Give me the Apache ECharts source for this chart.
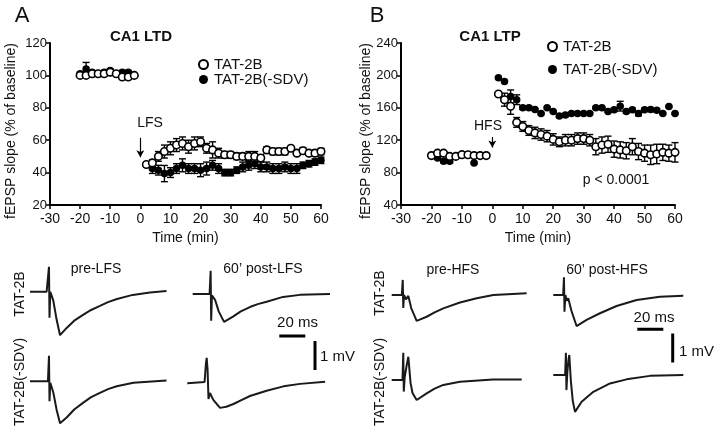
<!DOCTYPE html>
<html><head><meta charset="utf-8">
<script src="https://cdn.jsdelivr.net/npm/echarts@6/dist/echarts.min.js"></script>
<style>html,body{margin:0;padding:0;background:#fff}#c{width:720px;height:433px}</style>
</head><body><div id="c"></div>
<script>
// ---------- Data ----------
const baseTimes = [-20,-18,-16,-14,-12,-10,-8,-6,-4,-2];
const postTimes = [2,4,6,8,10,12,14,16,18,20,22,24,26,28,30,32,34,36,38,40,42,44,46,48,50,52,54,56,58,60];
const postTimesLtdSdv = [4,6,8,10,12,14,16,18,20,22,24,26,28,30,32,34,36,38,40,42,44,46,48,50,52,54,56,58,60];
const xTicks = [-30,-20,-10,0,10,20,30,40,50,60];

// Panel A (CA1 LTD)
const ltdOpenBase = [100,100,101,101,101,102,101,99,99,100];
const ltdOpenBaseErr = [1,1,1,1,1,1,1,1,1,1];
const ltdFilledBase = [101,104,102,101,102,103,101,102,102,100];
const ltdFilledBaseErr = [1,4,1,1,1,1,1,1,1,1];
const ltdOpen = [45,46,50,53,55,57,58,56,58,59,55,54,52,51,51,50,50,50,50,49,54,53,53,53,55,52,53.5,52,52,53];
const ltdOpenErr = [1,2,3,4,4,4,4,4,4,3,3,5,3,2,2,2,2,3,3,2,2,2,2,2,1,1,2,1,2,2];
const ltdFilled = [42.5,41.5,39.4,40,42.5,44.5,42.5,42.5,41.5,42.5,44.5,42.5,40,40,41.5,43.5,44.5,45.5,43.5,43.5,42.5,42.5,43.5,42.5,42.5,44.5,45.5,46.5,47.6];
const ltdFilledErr = [3,3,5,3,3,4,3,3,4,4,3,3,2,2,2,3,3,3,3,3,3,3,3,3,3,2,2,2,2];

// Panel B (CA1 LTP)
const ltpOpenBase = [101,104,104,100,100,102,102,101,101,101];
const ltpOpenBaseErr = [1,1,1,1,1,1,1,1,1,1];
const ltpFilledBase = [101,98,94,94,100,103,102,92,101,101];
const ltpFilledBaseErr = [1,1,2,2,1,1,1,1,1,1];
const ltpOpen = [177,170,162,142,137,132,129,127,125,121,118,120,120,122,122,120,112,114,115,109,108,107,112,106,104,102,103,105,104,105];
const ltpOpenErr = [2,8,10,6,6,6,7,7,7,7,6,7,7,7,7,7,10,10,10,10,10,10,10,10,10,12,12,10,10,12];
const ltpFilled = [197,192.5,174,170,160,160,158,153,160,155.5,150,151,153,153,153,153,160,160,155.5,157.5,162,155.5,157.5,153,157.5,158,157,153,161.5,153];
const ltpFilledErr = [1,1,8,6,2,2,1,1,1,1,2,2,1,1,1,1,1,1,1,2,6,2,2,3,2,2,2,1,1,1];

// Example fEPSP traces: [time ms, mV]
const trLtdPre2B  = [[0,0],[12.8,0],[14.6,0.86],[15.0,-0.9],[15.6,0],[17.9,-0.3],[20.5,-0.97],[23.1,-1.5],[28.2,-1.25],[34,-1.0],[40.8,-0.8],[47,-0.63],[53.8,-0.49],[60,-0.36],[66.9,-0.25],[79,-0.11],[92.3,-0.03],[105,0.02]];
const trLtdPost2B = [[0,0],[13.0,0],[13.8,0.8],[14.2,-0.92],[14.8,-0.05],[17.2,-0.2],[20,-0.6],[24.1,-0.96],[31,-0.78],[37,-0.6],[44,-0.45],[50,-0.35],[56.9,-0.27],[69.5,-0.1],[82.5,-0.03],[105.6,0]];
const trLtdPreSdv = [[0,0],[13.8,0],[14.6,0.89],[15.0,-0.69],[15.6,-0.05],[18,-0.4],[20.5,-1.0],[23.1,-1.46],[28.2,-1.26],[34,-0.98],[41,-0.74],[47,-0.55],[53.8,-0.4],[60,-0.27],[66.7,-0.17],[79.5,-0.05],[105,0.03]];
const trLtdPostSdv= [[0,0],[13.3,0.05],[14.3,0.7],[14.9,0.92],[15.6,0.5],[16.3,-0.57],[17.4,-0.35],[20,-0.6],[25.2,-0.89],[30,-0.85],[35.5,-0.75],[42,-0.6],[48.2,-0.46],[61,-0.27],[74,-0.11],[86.7,-0.02],[106,0.06]];
const trLtpPre2B  = [[0,0],[7.8,0],[8.5,0.52],[8.9,-0.45],[9.5,0.0],[11,-0.15],[12.8,-0.03],[15,-0.45],[19.2,-0.89],[26.9,-0.75],[33,-0.6],[39.7,-0.46],[52.5,-0.26],[65.4,-0.11],[78.2,0],[103.8,0.06]];
const trLtpPost2B = [[0,0],[7.6,0],[8.2,0.61],[8.6,-0.58],[9.3,0],[10.3,-0.2],[11.5,-0.11],[14,-0.55],[17.9,-1.07],[25.6,-0.86],[35.9,-0.63],[48.7,-0.38],[64.1,-0.17],[82,-0.06],[100,-0.03]];
const trLtpPreSdv = [[0,0],[8.3,0],[8.9,0.94],[9.3,-0.4],[10,0.1],[11.5,0.5],[12.8,0.8],[14.5,-0.1],[16,-0.45],[19.2,-0.69],[26.9,-0.46],[33,-0.3],[39.7,-0.17],[52.5,-0.06],[78,0.02],[100,0.02]];
const trLtpPostSdv= [[0,0],[9.1,0],[9.7,0.77],[10.1,-0.52],[10.8,0.1],[11.6,0.5],[12.3,0.69],[13.5,-0.2],[15,-0.9],[16.7,-1.27],[21.8,-0.92],[30.8,-0.58],[43.6,-0.29],[56.4,-0.15],[74.4,-0.03],[100,0]];
const scaleBarMs = 20, scaleBarMv = 1;

// ---------- Layout ----------
const FONT = 'Liberation Sans, Arial, sans-serif';
const PX_PER_MS = 1.3, PX_PER_MV = 29;
const chart = echarts.init(document.getElementById('c'));
const grids = [], xAxes = [], yAxes = [], series = [];

function pairs(xs, ys) { return xs.map((x,i)=>[x, ys[i]]); }
function triples(xs, ys, es) { return xs.map((x,i)=>[x, ys[i], es[i]]); }

function mainPanel(left, width, yMin, yMax, yInt) {
  const gi = grids.length;
  grids.push({left, top:43, width, height:162});
  xAxes.push({gridIndex:gi, type:'value', min:-30, max:60, interval:10,
    name:'Time (min)', nameLocation:'middle', nameGap:26,
    nameTextStyle:{fontFamily:FONT, fontSize:14, color:'#111'},
    axisLine:{onZero:false, lineStyle:{color:'#000', width:2}},
    axisTick:{length:4, lineStyle:{color:'#000', width:1.5}},
    axisLabel:{fontFamily:FONT, fontSize:14, color:'#111', margin:7},
    splitLine:{show:false}});
  yAxes.push({gridIndex:gi, type:'value', min:yMin, max:yMax, interval:yInt,
    axisLine:{show:true, onZero:false, lineStyle:{color:'#000', width:2}},
    axisTick:{show:true, length:4, lineStyle:{color:'#000', width:1.5}},
    axisLabel:{fontFamily:FONT, fontSize:13, color:'#111', margin:3},
    splitLine:{show:false}});
  return gi;
}

function errSeries(gi, data) {
  series.push({type:'custom', xAxisIndex:gi, yAxisIndex:gi, z:2, silent:true,
    encode:{x:0, y:1}, data,
    renderItem(params, api) {
      const x = api.value(0), y = api.value(1), e = api.value(2);
      const p1 = api.coord([x, y - e]), p2 = api.coord([x, y + e]);
      const w = 3.5;
      const st = {stroke:'#000', lineWidth:1.4};
      return {type:'group', children:[
        {type:'line', shape:{x1:p1[0], y1:p1[1], x2:p2[0], y2:p2[1]}, style:st},
        {type:'line', shape:{x1:p1[0]-w, y1:p1[1], x2:p1[0]+w, y2:p1[1]}, style:st},
        {type:'line', shape:{x1:p2[0]-w, y1:p2[1], x2:p2[0]+w, y2:p2[1]}, style:st}
      ]};
    }});
}
function scatter(gi, name, data, open) {
  series.push({type:'scatter', name, xAxisIndex:gi, yAxisIndex:gi, z: open ? 4 : 3,
    symbol:'circle', symbolSize:7.5, data,
    itemStyle: open ? {color:'#fff', borderColor:'#000', borderWidth:1.6, opacity:1}
                    : {color:'#000', borderColor:'#000', borderWidth:0, opacity:1}});
}
function arrow(gi, y1, y2) {
  series.push({type:'line', xAxisIndex:gi, yAxisIndex:gi, data:[], silent:true,
    markLine:{silent:true, symbol:['none','arrow'], symbolSize:[6,7],
      lineStyle:{color:'#000', width:1.2, type:'solid'}, label:{show:false},
      data:[[{coord:[0,y1]},{coord:[0,y2]}]]}});
}

// Panel A
const gA = mainPanel(50, 271, 20, 120, 20);
errSeries(gA, triples(baseTimes.concat(postTimesLtdSdv), ltdFilledBase.concat(ltdFilled), ltdFilledBaseErr.concat(ltdFilledErr)));
errSeries(gA, triples(baseTimes.concat(postTimes), ltdOpenBase.concat(ltdOpen), ltdOpenBaseErr.concat(ltdOpenErr)));
scatter(gA, 'TAT-2B(-SDV)', pairs(baseTimes.concat(postTimesLtdSdv), ltdFilledBase.concat(ltdFilled)), false);
scatter(gA, 'TAT-2B', pairs(baseTimes.concat(postTimes), ltdOpenBase.concat(ltdOpen)), true);
arrow(gA, 61.5, 49.5);

// Panel B
const gB = mainPanel(401, 274, 40, 240, 40);
errSeries(gB, triples(baseTimes.concat(postTimes), ltpFilledBase.concat(ltpFilled), ltpFilledBaseErr.concat(ltpFilledErr)));
errSeries(gB, triples(baseTimes.concat(postTimes), ltpOpenBase.concat(ltpOpen), ltpOpenBaseErr.concat(ltpOpenErr)));
scatter(gB, 'TAT-2B(-SDV)', pairs(baseTimes.concat(postTimes), ltpFilledBase.concat(ltpFilled)), false);
scatter(gB, 'TAT-2B', pairs(baseTimes.concat(postTimes), ltpOpenBase.concat(ltpOpen)), true);
arrow(gB, 124, 111);

// Traces
function traceGrid(left, baseY, data) {
  const gi = grids.length;
  const maxMv = 1.2, minMv = -1.8, spanMs = 110;
  grids.push({left, top: baseY - maxMv*PX_PER_MV, width: spanMs*PX_PER_MS, height:(maxMv-minMv)*PX_PER_MV});
  xAxes.push({gridIndex:gi, type:'value', min:0, max:spanMs, show:false});
  yAxes.push({gridIndex:gi, type:'value', min:minMv, max:maxMv, show:false});
  series.push({type:'line', xAxisIndex:gi, yAxisIndex:gi, data, symbol:'none', silent:true,
    lineStyle:{color:'#1a1a1a', width:2}});
}
traceGrid(30, 291.7, trLtdPre2B);
traceGrid(192.7, 294, trLtdPost2B);
traceGrid(30, 381.7, trLtdPreSdv);
traceGrid(187.3, 385, trLtdPostSdv);
traceGrid(391.7, 295, trLtpPre2B);
traceGrid(553.3, 295, trLtpPost2B);
traceGrid(391.7, 380, trLtpPreSdv);
traceGrid(553.3, 375, trLtpPostSdv);

// Scale bars
function hBar(left, y) {
  const gi = grids.length;
  grids.push({left, top:y-5, width:scaleBarMs*PX_PER_MS, height:10});
  xAxes.push({gridIndex:gi, type:'value', min:0, max:scaleBarMs, show:false});
  yAxes.push({gridIndex:gi, type:'value', min:-1, max:1, show:false});
  series.push({type:'line', xAxisIndex:gi, yAxisIndex:gi, data:[[0,0],[scaleBarMs,0]], symbol:'none', silent:true,
    lineStyle:{color:'#000', width:3}});
}
function vBar(x, top) {
  const gi = grids.length;
  grids.push({left:x-5, top, width:10, height:scaleBarMv*PX_PER_MV});
  xAxes.push({gridIndex:gi, type:'value', min:-1, max:1, show:false});
  yAxes.push({gridIndex:gi, type:'value', min:0, max:scaleBarMv, show:false});
  series.push({type:'line', xAxisIndex:gi, yAxisIndex:gi, data:[[0,0],[0,scaleBarMv]], symbol:'none', silent:true,
    lineStyle:{color:'#000', width:3}});
}
hBar(279.3, 336); vBar(315, 341);
hBar(637.3, 329.3); vBar(672.7, 333.5);

function txt(x, y, text, opt) {
  return Object.assign({type:'text', x, y, style:Object.assign({text, fontFamily:FONT, fontSize:14, fill:'#111',
    align:'center', verticalAlign:'middle'}, opt||{})});
}
const graphics = [
  txt(22, 16, 'A', {fontSize:22}),
  txt(377, 16, 'B', {fontSize:22}),
  txt(141, 37, 'CA1 LTD', {fontSize:15, fontWeight:'bold'}),
  txt(490, 37, 'CA1 LTP', {fontSize:15, fontWeight:'bold'}),
  Object.assign(txt(11, 131, 'fEPSP slope (% of baseline)'), {rotation:Math.PI/2}),
  Object.assign(txt(366, 131, 'fEPSP slope (% of baseline)'), {rotation:Math.PI/2}),
  txt(150, 123, 'LFS'),
  txt(488, 126, 'HFS'),
  txt(616, 180, 'p < 0.0001', {fontSize:14}),
  txt(96, 269, 'pre-LFS'),
  txt(263, 269, '60’ post-LFS'),
  txt(453, 270, 'pre-HFS'),
  txt(607, 270, '60’ post-HFS'),
  Object.assign(txt(20, 294, 'TAT-2B'), {rotation:Math.PI/2}),
  Object.assign(txt(20, 382, 'TAT-2B(-SDV)'), {rotation:Math.PI/2}),
  Object.assign(txt(380, 293, 'TAT-2B'), {rotation:Math.PI/2}),
  Object.assign(txt(380, 382, 'TAT-2B(-SDV)'), {rotation:Math.PI/2}),
  txt(297.5, 323, '20 ms', {fontSize:15}),
  txt(320, 357, '1 mV', {fontSize:15, align:'left'}),
  txt(654, 318, '20 ms', {fontSize:15}),
  txt(679, 352, '1 mV', {fontSize:15, align:'left'})
];

const legendCommon = {orient:'vertical', icon:'circle', itemWidth:9, itemHeight:9, itemGap:1,
  textStyle:{fontFamily:FONT, fontSize:15, color:'#111', padding:[0,0,0,1]}, selectedMode:false,
  data:['TAT-2B','TAT-2B(-SDV)']};

chart.setOption({
  animation:false,
  backgroundColor:'#fff',
  grid:grids, xAxis:xAxes, yAxis:yAxes, series,
  legend:[
    Object.assign({}, legendCommon, {left:193, top:52, itemGap:0}),
    Object.assign({}, legendCommon, {left:542, top:34, itemGap:8})
  ],
  graphic:graphics
});
</script></body></html>
